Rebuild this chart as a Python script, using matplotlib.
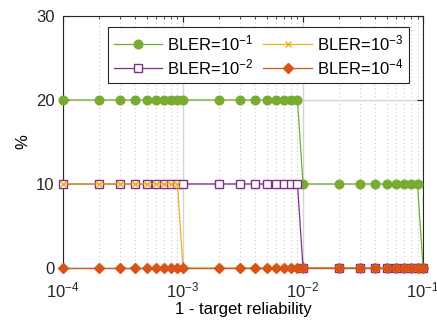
import numpy as np
import matplotlib
matplotlib.use("Agg")
import matplotlib.pyplot as plt
from matplotlib.ticker import LogLocator, NullFormatter

plt.rcParams['font.family'] = ['Liberation Sans', 'DejaVu Sans']
plt.rcParams['mathtext.fontset'] = 'custom'
plt.rcParams['mathtext.rm'] = 'Liberation Sans'
plt.rcParams['mathtext.it'] = 'Liberation Sans:italic'
plt.rcParams['mathtext.bf'] = 'Liberation Sans:bold'

# x values: 1 - target reliability
x_vals = [1e-4, 2e-4, 3e-4, 4e-4, 5e-4, 6e-4, 7e-4, 8e-4, 9e-4,
          1e-3, 2e-3, 3e-3, 4e-3, 5e-3, 6e-3, 7e-3, 8e-3, 9e-3,
          1e-2, 2e-2, 3e-2, 4e-2, 5e-2, 6e-2, 7e-2, 8e-2, 9e-2,
          1e-1]
bler_1 = [20]*18 + [10]*9 + [0]
bler_2 = [10]*18 + [0]*10
bler_3 = [10]*9 + [0]*19
bler_4 = [0]*28

labels = ['BLER=10$^{-1}$', 'BLER=10$^{-2}$', 'BLER=10$^{-3}$', 'BLER=10$^{-4}$']
y_ticks = [0, 10, 20, 30]

fig = plt.figure(figsize=(4.37, 3.24), dpi=100)
ax = fig.add_axes([0.144, 0.173, 0.824, 0.778])

green = '#77AC30'
purple = '#7E2F8E'
yellow = '#EDB120'
orange = '#D95319'

ax.plot(x_vals, bler_1, '-o', color=green, lw=0.9, ms=6.2, mfc=green, mec=green, label=labels[0], zorder=3, clip_on=False)
ax.plot(x_vals, bler_2, '-s', color=purple, lw=0.9, ms=5.5, mfc='white', mec=purple, mew=1.0, label=labels[1], zorder=4, clip_on=False)
ax.plot(x_vals, bler_3, '-x', color=yellow, lw=0.9, ms=4, mew=1.0, label=labels[2], zorder=5, clip_on=False)
ax.plot(x_vals, bler_4, '-D', color=orange, lw=0.9, ms=5.5, mfc=orange, mec=orange, label=labels[3], zorder=6, clip_on=False)

ax.set_xscale('log')
ax.set_xlim(1e-4, 1e-1)
ax.set_ylim(0, 30)
ax.set_yticks(y_ticks)
ax.xaxis.set_minor_locator(LogLocator(base=10, subs=np.arange(2, 10)))
ax.xaxis.set_minor_formatter(NullFormatter())

ax.grid(True, which='major', color='#d4d4d4', lw=1.0, ls='-', zorder=0)
ax.grid(True, which='minor', axis='x', color='#cccccc', lw=0.8, ls=(0, (1, 2.5)), zorder=0)
ax.set_axisbelow(True)

for s in ax.spines.values():
    s.set_color('#262626')
    s.set_linewidth(0.8)
ax.tick_params(which='both', direction='in', top=True, right=True, colors='#262626', labelsize=12)
ax.tick_params(which='major', length=4)
ax.tick_params(which='minor', length=2)
ax.tick_params(axis='x', pad=9)
ax.tick_params(axis='y', pad=6)

ax.set_xlabel('1 - target reliability', fontsize=12, labelpad=1)
ax.set_ylabel('%', fontsize=12, labelpad=4)

leg = ax.legend(ncol=2, loc='upper right', bbox_to_anchor=(0.962, 0.955), fontsize=12,
                frameon=True, fancybox=False, edgecolor='#262626', framealpha=1,
                handlelength=2.9, columnspacing=0.6, handletextpad=0.3, borderpad=0.35,
                labelspacing=0.25, borderaxespad=0)
leg.get_frame().set_linewidth(0.8)

fig.savefig('out.png', dpi=100)
